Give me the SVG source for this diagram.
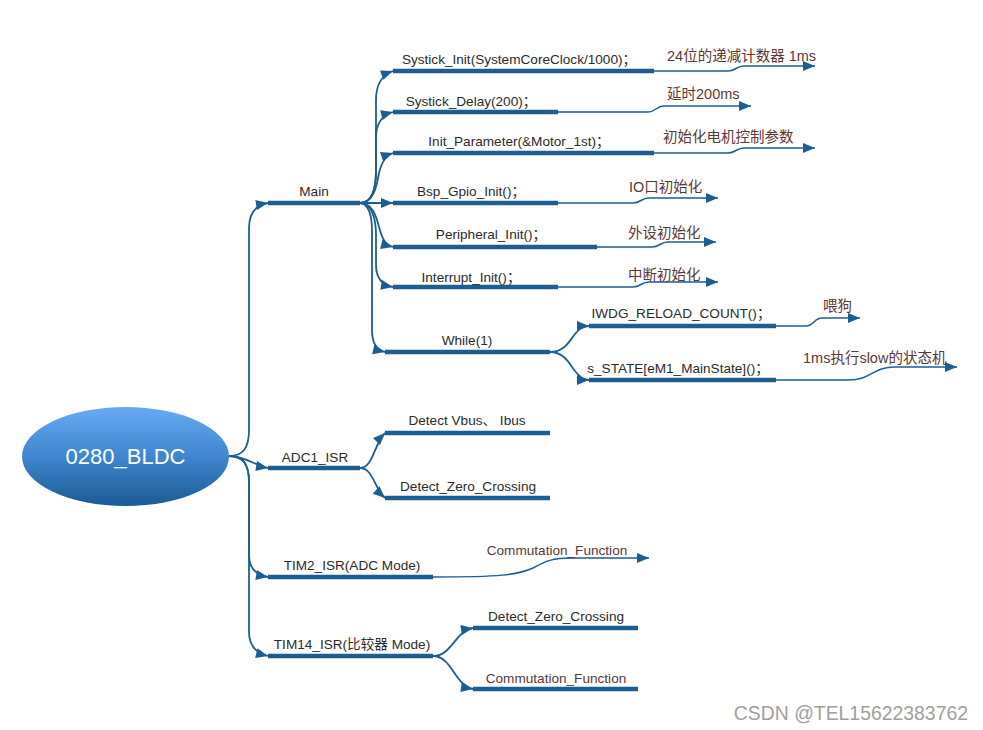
<svg xmlns="http://www.w3.org/2000/svg" width="983" height="730" viewBox="0 0 983 730">
<defs>
<linearGradient id="eg" x1="0" y1="0" x2="0" y2="1">
<stop offset="0" stop-color="#66abf3"/>
<stop offset="0.5" stop-color="#3f86cf"/>
<stop offset="1" stop-color="#1a5b93"/>
</linearGradient>
<marker id="ah" markerUnits="userSpaceOnUse" markerWidth="12" markerHeight="10" refX="12" refY="5" orient="auto" overflow="visible">
<path d="M0,0 L12,5 L0,10 z" fill="#1d5e91"/>
</marker>
<style>
.bar{stroke:#1d5e91;stroke-width:4.5;fill:none}
.c{stroke:#1d5e91;stroke-width:1.8;fill:none;marker-end:url(#ah)}
.t{stroke:#1d5e91;stroke-width:1.5;fill:none;marker-end:url(#ah)}
.lbl{font-family:"Liberation Sans","Noto Sans CJK SC",sans-serif;font-size:13.6px;fill:#2b2b2b;text-anchor:middle}
.cm{font-family:"Liberation Sans","Noto Sans CJK SC",sans-serif;font-size:14.5px;fill:#5a3838}
.cm2{font-family:"Liberation Sans","Noto Sans CJK SC",sans-serif;font-size:13.6px;fill:#5a3838;text-anchor:middle}
</style>
</defs>
<rect width="983" height="730" fill="#ffffff"/>

<g id="connectors">
<path class="c" d="M229,456 C243,456 249,448 249,430 L249,228 C249,212 256,205 268,203"/>
<path class="c" d="M229,456 C245,456 256,466 268,468"/>
<path class="c" d="M229,456 C243,456 249,464 249,482 L249,555 C249,568 256,575 268,577"/>
<path class="c" d="M229,456 C243,456 249,464 249,482 L249,632 C249,646 256,653 268,656"/>

<path class="c" d="M360,203 C372,203 376,190 376,170 L376,100 C376,84 382,75 393,71"/>
<path class="c" d="M360,203 C372,203 376,190 376,170 L376,138 C376,124 382,115 393,112"/>
<path class="c" d="M360,203 C372,203 376,190 378,178 C380,166 384,156 393,153"/>
<path class="c" d="M360,203 L393,203"/>
<path class="c" d="M360,203 C372,203 376,215 379,227 C382,238 385,245 393,247"/>
<path class="c" d="M360,203 C370,203 376,215 376,235 L376,265 C376,278 382,285 393,287"/>
<path class="c" d="M360,203 C368,203 372,215 372,230 L372,330 C372,343 376,350 385,352"/>

<path class="c" d="M550,352 C565,352 570,340 575,334 C580,328 583,326 589,326"/>
<path class="c" d="M550,352 C565,352 570,365 575,371 C580,377 583,380 589,380"/>

<path class="c" d="M360,468 C373,468 374,444 385,433"/>
<path class="c" d="M360,468 C373,468 374,488 385,498"/>

<path class="c" d="M433,656 C452,656 455,631 473,628"/>
<path class="c" d="M433,656 C452,656 455,686 473,689"/>

<path class="t" d="M654,71 L728,71 C736,71 736,66 744,66 L815,66"/>
<path class="t" d="M558,112 L648,112 C656,112 656,106 664,106 L751,106"/>
<path class="t" d="M654,153 L728,153 C736,153 736,148 744,148 L815,148"/>
<path class="t" d="M558,203 L633,203 C641,203 641,198 649,198 L718,198"/>
<path class="t" d="M597,247 L652,247 C660,247 660,242 668,242 L716,242"/>
<path class="t" d="M558,287 L633,287 C641,287 641,282 649,282 L718,282"/>
<path class="t" d="M776,326 L806,326 C814,326 814,318 822,318 L860,318"/>
<path class="t" d="M776,380 L848,380 C872,380 872,367 895,367 L957,367"/>
<path class="t" d="M433,577 C500,577 518,575 533,568 C546,561 552,558 572,558 L649,558"/>
</g>

<g id="root">
<ellipse cx="125.5" cy="456.5" rx="103.5" ry="49.5" fill="url(#eg)"/>
<text x="125.5" y="464" font-family="Liberation Sans, sans-serif" font-size="22" fill="#ffffff" text-anchor="middle">0280_BLDC</text>
</g>

<g id="main"><line class="bar" x1="268" y1="203" x2="360" y2="203"/><text class="lbl" x="314" y="196">Main</text></g>
<g id="systick_init"><line class="bar" x1="393" y1="71" x2="654" y2="71"/><text class="lbl" x="519" y="64">Systick_Init(SystemCoreClock/1000)；</text></g>
<g id="systick_delay"><line class="bar" x1="393" y1="112" x2="558" y2="112"/><text class="lbl" x="471" y="106">Systick_Delay(200)；</text></g>
<g id="init_parameter"><line class="bar" x1="393" y1="153" x2="654" y2="153"/><text class="lbl" x="519" y="146">Init_Parameter(&amp;Motor_1st)；</text></g>
<g id="bsp_gpio"><line class="bar" x1="393" y1="203" x2="558" y2="203"/><text class="lbl" x="471" y="196">Bsp_Gpio_Init()；</text></g>
<g id="peripheral"><line class="bar" x1="393" y1="247" x2="597" y2="247"/><text class="lbl" x="491" y="239">Peripheral_Init()；</text></g>
<g id="interrupt"><line class="bar" x1="393" y1="287" x2="558" y2="287"/><text class="lbl" x="471" y="282">Interrupt_Init()；</text></g>
<g id="while"><line class="bar" x1="385" y1="352" x2="550" y2="352"/><text class="lbl" x="467" y="345">While(1)</text></g>
<g id="iwdg"><line class="bar" x1="589" y1="326" x2="776" y2="326"/><text class="lbl" x="681" y="318">IWDG_RELOAD_COUNT()；</text></g>
<g id="s_state"><line class="bar" x1="589" y1="380" x2="776" y2="380"/><text class="lbl" x="678" y="373">s_STATE[eM1_MainState]()；</text></g>

<g id="adc1"><line class="bar" x1="268" y1="468" x2="360" y2="468"/><text class="lbl" x="315" y="462">ADC1_ISR</text></g>
<g id="detect_vbus"><line class="bar" x1="385" y1="433" x2="550" y2="433"/><text class="lbl" x="467" y="425">Detect Vbus、 Ibus</text></g>
<g id="detect_zero_adc"><line class="bar" x1="385" y1="498" x2="550" y2="498"/><text class="lbl" x="468" y="491">Detect_Zero_Crossing</text></g>

<g id="tim2"><line class="bar" x1="268" y1="577" x2="433" y2="577"/><text class="lbl" x="352" y="570">TIM2_ISR(ADC Mode)</text></g>
<g id="tim2_comm"><text class="cm2" x="557" y="555">Commutation_Function</text></g>

<g id="tim14"><line class="bar" x1="268" y1="656" x2="433" y2="656"/><text class="lbl" x="352" y="649">TIM14_ISR(比较器 Mode)</text></g>
<g id="detect_zero_tim14"><line class="bar" x1="473" y1="628" x2="638" y2="628"/><text class="lbl" x="556" y="621">Detect_Zero_Crossing</text></g>
<g id="comm_tim14"><line class="bar" x1="473" y1="689" x2="638" y2="689"/><text class="cm2" x="556" y="683">Commutation_Function</text></g>

<g id="note_systick"><text class="cm" x="667" y="61">24位的递减计数器 1ms</text></g>
<g id="note_delay"><text class="cm" x="667" y="99">延时200ms</text></g>
<g id="note_param"><text class="cm" x="663" y="142">初始化电机控制参数</text></g>
<g id="note_gpio"><text class="cm" x="629" y="192">IO口初始化</text></g>
<g id="note_periph"><text class="cm" x="628" y="238">外设初始化</text></g>
<g id="note_int"><text class="cm" x="628" y="280">中断初始化</text></g>
<g id="note_iwdg"><text class="cm" x="823" y="311">喂狗</text></g>
<g id="note_state"><text class="cm" x="803" y="363">1ms执行slow的状态机</text></g>

<text x="968" y="720" font-family="Liberation Sans, sans-serif" font-size="19.4" fill="#a0a0a0" text-anchor="end">CSDN @TEL15622383762</text>
</svg>
